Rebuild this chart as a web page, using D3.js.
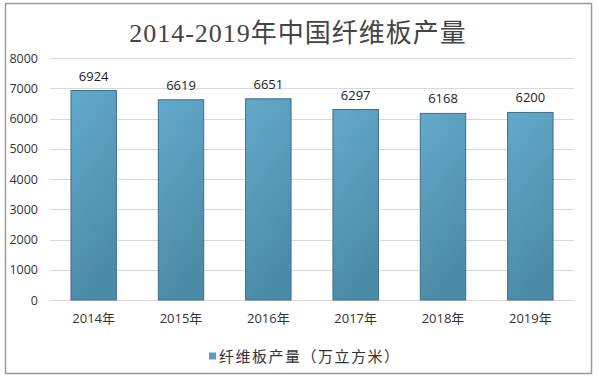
<!DOCTYPE html>
<html>
<head>
<meta charset="utf-8">
<script src="https://cdn.jsdelivr.net/npm/d3@7"></script>
<style>
  body { margin: 0; background: #fff; }
  svg text { fill: #333; }
</style>
</head>
<body>
<div id="chart"></div>
<script>
  // data
  var years = ["2014年", "2015年", "2016年", "2017年", "2018年", "2019年"];
  var output = [6924, 6619, 6651, 6297, 6168, 6200];
  var yTicks = [0, 1000, 2000, 3000, 4000, 5000, 6000, 7000, 8000];
  var title = "2014-2019年中国纤维板产量";
  var seriesName = "纤维板产量（万立方米）";

  var W = 599, H = 377;
  var margin = {top: 58, right: 25, bottom: 77, left: 50},
    width = W - margin.left - margin.right,
    height = H - margin.top - margin.bottom;

  var svg = d3.select("#chart").append("svg")
    .attr("width", W)
    .attr("height", H);

  var defs = svg.append("defs");
  var grad = defs.append("linearGradient")
    .attr("id", "barGrad")
    .attr("x1", 0).attr("y1", 0).attr("x2", 0.3).attr("y2", 1);
  grad.append("stop").attr("offset", "0%").attr("stop-color", "#63a9ca");
  grad.append("stop").attr("offset", "100%").attr("stop-color", "#4c8ba7");

  // outer frame
  svg.append("rect")
    .attr("x", 5.5).attr("y", 3.5)
    .attr("width", 586).attr("height", 370)
    .attr("fill", "#fff")
    .attr("stroke", "#9a9a9a")
    .attr("stroke-width", 1.5);

  svg.append("text")
    .attr("x", 298)
    .attr("y", 42)
    .attr("text-anchor", "middle")
    .style("font-family", "'Liberation Serif', 'DejaVu Serif', 'Noto Sans CJK SC', serif")
    .style("font-size", "26px")
    .style("letter-spacing", "1px")
    .style("fill", "#444")
    .text(title);

  var g = svg.append("g")
    .attr("transform", "translate(" + margin.left + "," + margin.top + ")");

  var x = d3.scaleBand()
    .domain(years)
    .range([0, width])
    .paddingInner(0.48)
    .paddingOuter(0.24);

  var y = d3.scaleLinear()
    .domain([0, 8000])
    .range([height, 0]);

  // grid lines
  g.append("g")
    .selectAll("line")
    .data(yTicks)
    .enter().append("line")
      .attr("x1", 0).attr("x2", width)
      .attr("y1", function (d) { return Math.round(y(d)) + 0.5; })
      .attr("y2", function (d) { return Math.round(y(d)) + 0.5; })
      .attr("stroke", "#d9d9d9")
      .attr("stroke-width", 1);

  // y axis
  var yAxis = d3.axisLeft(y).tickValues(yTicks).tickFormat(d3.format("d")).tickSize(0).tickPadding(12);
  g.append("g")
    .call(yAxis)
    .call(function (s) { s.select(".domain").remove(); })
    .selectAll("text")
      .style("font-family", "'Open Sans', 'DejaVu Sans', sans-serif")
      .style("font-size", "12.5px")
      .style("fill", "#333");

  // x axis
  var xAxis = d3.axisBottom(x).tickSize(0).tickPadding(14);
  g.append("g")
    .attr("transform", "translate(0," + height + ")")
    .call(xAxis)
    .call(function (s) { s.select(".domain").remove(); })
    .selectAll("text")
      .style("font-family", "'Open Sans', 'Noto Sans CJK SC', sans-serif")
      .style("font-size", "13px")
      .style("fill", "#333");

  // bars
  g.selectAll("rect.bar")
    .data(output)
    .enter().append("rect")
      .attr("class", "bar")
      .attr("x", function (d, i) { return x(years[i]); })
      .attr("y", function (d) { return y(d); })
      .attr("width", x.bandwidth())
      .attr("height", function (d) { return height - y(d); })
      .attr("fill", "url(#barGrad)")
      .attr("stroke", "#3d6f86")
      .attr("stroke-width", 1);

  // value labels
  g.selectAll("text.val")
    .data(output)
    .enter().append("text")
      .attr("class", "val")
      .attr("x", function (d, i) { return x(years[i]) + x.bandwidth() / 2; })
      .attr("y", function (d) { return y(d) - 10; })
      .attr("text-anchor", "middle")
      .style("font-family", "'Open Sans', 'DejaVu Sans', sans-serif")
      .style("font-size", "13px")
      .style("fill", "#222")
      .text(function (d) { return d; });

  // legend
  var legend = svg.append("g")
    .attr("transform", "translate(209,356)");
  legend.append("rect")
    .attr("x", 0).attr("y", -3.5)
    .attr("width", 7).attr("height", 7)
    .attr("fill", "#5a9dbd");
  legend.append("text")
    .attr("x", 10)
    .attr("y", 5.5)
    .style("font-family", "'Noto Sans CJK SC', sans-serif")
    .style("font-size", "15px")
    .style("letter-spacing", "1.5px")
    .style("fill", "#333")
    .text(seriesName);
</script>
</body>
</html>
